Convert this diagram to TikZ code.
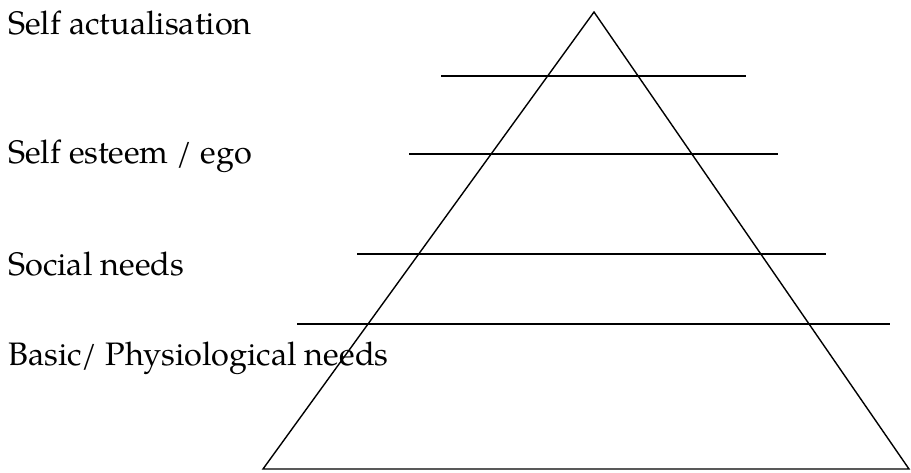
\documentclass[tikz,border=0pt]{standalone}
\usepackage{fontspec}
\setmainfont{TeX Gyre Pagella}
\usepackage{tikz}
\usetikzlibrary{positioning}

\begin{document}
\begin{tikzpicture}[x=1pt,y=-1pt,
  level/.style={anchor=base west,inner sep=0pt,font=\fontsize{32.5}{38}\selectfont},
  rule/.style={line width=1.6pt},
  edge/.style={line width=1.4pt,line join=miter}
]
\useasboundingbox (0,0) rectangle (911,472);

% pyramid
\coordinate (apex)  at (594,12);
\coordinate (left)  at (263,469);
\coordinate (right) at (909,469);
\draw[edge] (left) -- (apex) -- (right) -- cycle;

% dividing lines
\draw[rule] (441,76)  -- (746,76);
\draw[rule] (409,154) -- (778,154);
\draw[rule] (357,254) -- (826,254);
\draw[rule] (297,324) -- (890,324);

% levels
\node[level] (selfact) at (8,34)  {Self actualisation};
\node[level] (esteem)  at (8,163) {Self esteem / ego};
\node[level] (social)  at (8,275) {Social needs};
\node[level] (basic)   at (8,365) {Basic/ Physiological needs};
\end{tikzpicture}
\end{document}
